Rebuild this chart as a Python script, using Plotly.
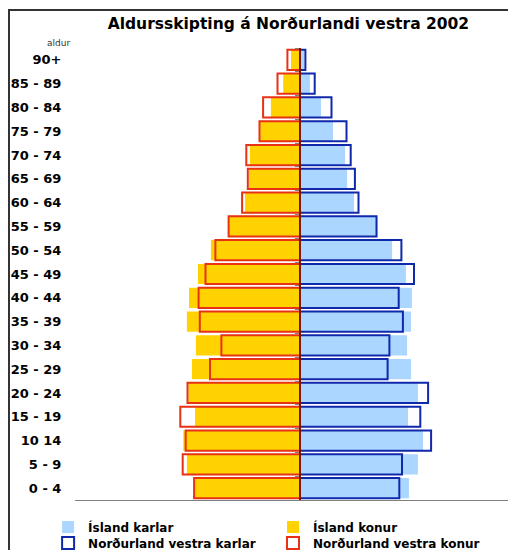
import plotly.graph_objects as go

# aldurshopar, neðst til efst
ages = ["0 - 4", "5 - 9", "10 14", "15 - 19", "20 - 24", "25 - 29", "30 - 34",
        "35 - 39", "40 - 44", "45 - 49", "50 - 54", "55 - 59", "60 - 64",
        "65 - 69", "70 - 74", "75 - 79", "80 - 84", "85 - 89", "90+"]

# hlutfall af mannfjölda (%)
island_karlar = [3.63, 3.93, 4.10, 3.60, 3.93, 3.70, 3.57, 3.70, 3.73, 3.53,
                 3.07, 2.58, 1.80, 1.57, 1.50, 1.10, 0.70, 0.33, 0.14]
island_konur = [3.53, 3.77, 3.89, 3.50, 3.72, 3.60, 3.47, 3.77, 3.70, 3.40,
                2.97, 2.40, 1.83, 1.70, 1.67, 1.33, 0.97, 0.56, 0.30]
nv_karlar = [3.31, 3.40, 4.37, 4.01, 4.27, 2.92, 2.98, 3.43, 3.29, 3.80,
             3.38, 2.55, 1.95, 1.83, 1.69, 1.55, 1.05, 0.49, 0.18]
nv_konur = [3.53, 3.91, 3.81, 3.99, 3.75, 3.00, 2.62, 3.34, 3.38, 3.15,
            2.82, 2.38, 1.93, 1.74, 1.79, 1.35, 1.23, 0.75, 0.42]

title = "Aldursskipting á Norðurlandi vestra 2002"

BLUE_FILL = "#AAD6FF"
YELLOW = "#FFD200"
BLUE_LINE = "#1028AA"
RED_LINE = "#E83214"
FONT = "DejaVu Sans"

fig = go.Figure()

fig.add_trace(go.Bar(y=ages, x=island_karlar, orientation="h", name="Ísland karlar",
                     marker=dict(color=BLUE_FILL, line=dict(width=0)), width=0.85,
                     legend="legend"))
fig.add_trace(go.Bar(y=ages, x=[-v for v in island_konur], orientation="h", name="Ísland konur",
                     marker=dict(color=YELLOW, line=dict(width=0)), width=0.85,
                     legend="legend2"))
fig.add_trace(go.Bar(y=ages, x=nv_karlar, orientation="h", name="Norðurland vestra karlar",
                     marker=dict(color="rgba(0,0,0,0)", line=dict(color=BLUE_LINE, width=2)),
                     width=0.85, legend="legend3"))
fig.add_trace(go.Bar(y=ages, x=[-v for v in nv_konur], orientation="h", name="Norðurland vestra konur",
                     marker=dict(color="rgba(0,0,0,0)", line=dict(color=RED_LINE, width=2)),
                     width=0.85, legend="legend4"))

# ás með litlum merkjum við miðjuna
fig.add_trace(go.Scatter(x=[None], y=[None], yaxis="y2", showlegend=False, hoverinfo="skip"))

# lóðrétt miðlína
fig.add_shape(type="line", xref="x", yref="paper", x0=0, x1=0, y0=0, y1=1,
              line=dict(color="#801800", width=2), layer="above")

# rammi
fig.add_shape(type="rect", xref="paper", yref="paper", x0=-0.1497, x1=1.2, y0=-0.3, y1=1.084,
              line=dict(color="#333333", width=2), layer="above")

fig.add_annotation(text="aldur", xref="paper", yref="paper", x=-0.068, y=1.0265,
                   showarrow=False, font=dict(family=FONT, size=9, color="#333333"))

legend_font = dict(family=FONT, size=12, weight="bold", color="black")


def leg(x, y):
    return dict(orientation="h", x=x, y=y, xanchor="left", yanchor="middle",
                bgcolor="rgba(0,0,0,0)", font=legend_font)


# síðan hefur 8px spássíu, svo myndin er 8px minni á hvorn veg
fig.update_layout(
    width=508, height=542,
    margin=dict(l=67, r=0, t=40, b=50, autoexpand=False),
    paper_bgcolor="white", plot_bgcolor="white",
    barmode="overlay",
    font=dict(family=FONT, color="black"),
    title=dict(text=title, x=0.484, xref="paper", y=1 - 16 / 542, yref="container",
               xanchor="center", yanchor="middle",
               font=dict(family=FONT, size=15.5, weight="bold", color="black")),
    xaxis=dict(range=[-7.5, 7.2], showticklabels=False, showgrid=False, zeroline=False,
               showline=True, linecolor="#808080", linewidth=1, ticks=""),
    yaxis=dict(categoryorder="array", categoryarray=ages, range=[-0.5, 18.5],
               showgrid=False, zeroline=False, showline=False,
               ticks="outside", ticklen=10, tickcolor="rgba(0,0,0,0)",
               tickfont=dict(family=FONT, size=13, weight="bold", color="black")),
    yaxis2=dict(overlaying="y", anchor="free", position=0.5102, side="left",
                range=[-0.5, 18.5], tickvals=[i + 0.5 for i in range(19)],
                ticks="outside", ticklen=5, tickcolor="#808080", showticklabels=False,
                showgrid=False, zeroline=False, showline=False),
    legend=leg(-0.061, -0.0597),
    legend2=leg(0.449, -0.0597),
    legend3=leg(-0.061, -0.0951),
    legend4=leg(0.449, -0.0951),
    showlegend=True,
)

fig.write_html("out.html")
